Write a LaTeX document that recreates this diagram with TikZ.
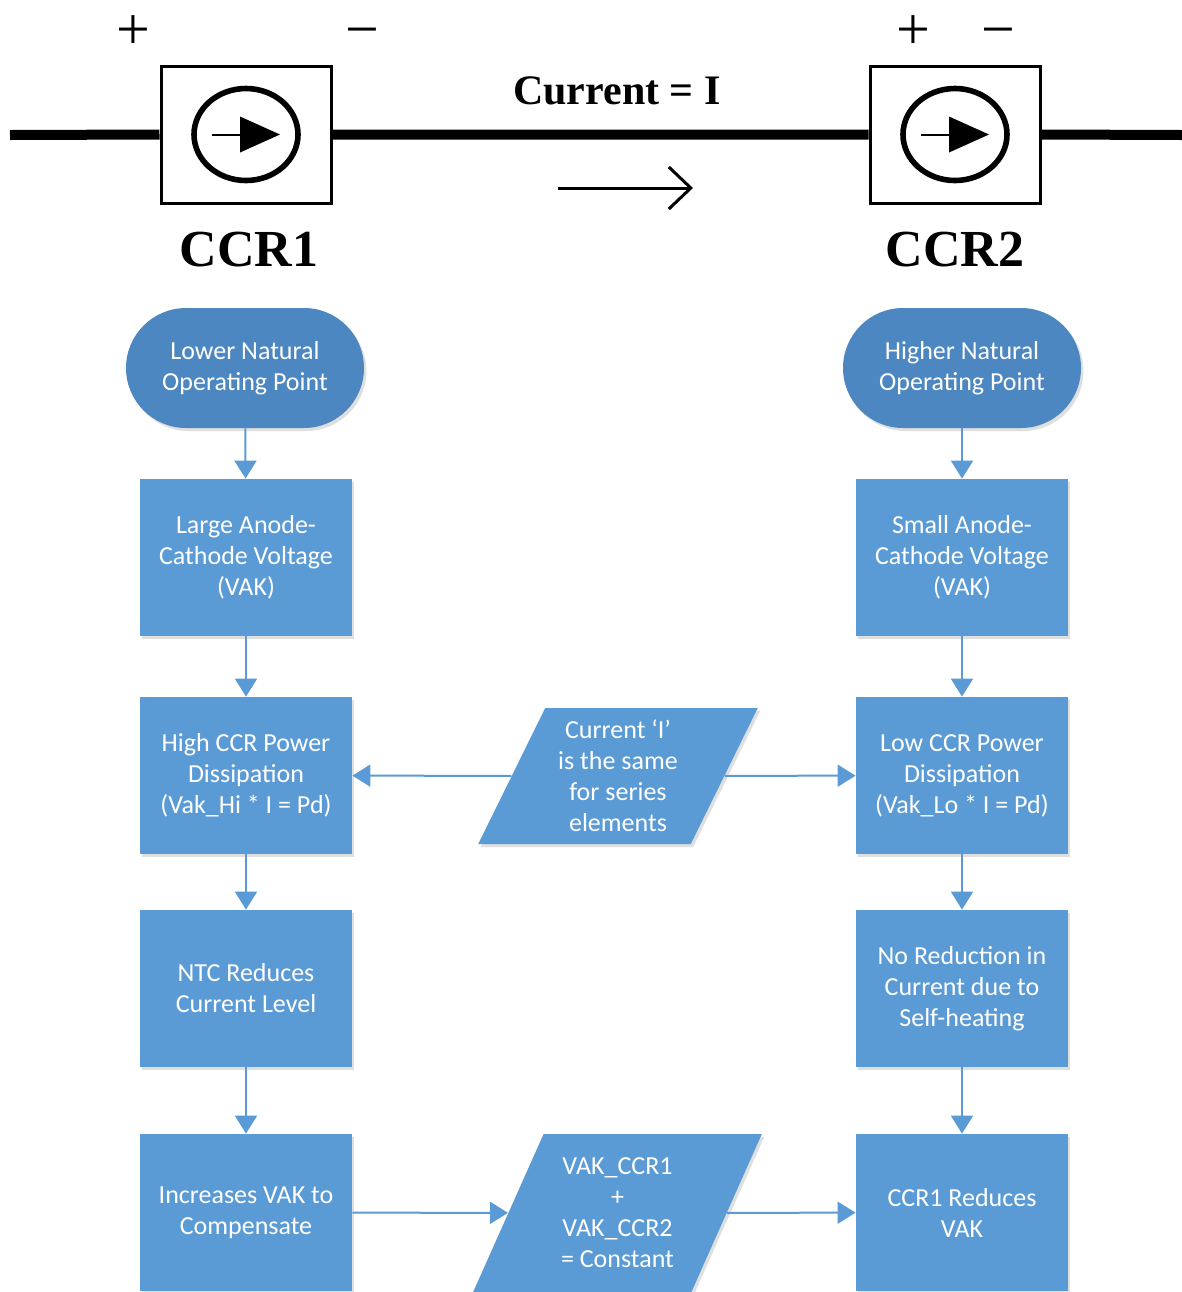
\documentclass[tikz,border=0pt]{standalone}
\usepackage{fontspec}
\setmainfont{Carlito}
\newfontfamily\timesfont{Liberation Serif}
\usetikzlibrary{arrows.meta,shapes.geometric,shadows}
\definecolor{boxblue}{HTML}{5B9BD5}
\definecolor{termblue}{HTML}{4C87C1}
\tikzset{
  ccr/.style={draw, line width=1.5pt, minimum width=85pt, minimum height=68.5pt, inner sep=0pt},
  wire/.style={line width=5pt},
  sign/.style={anchor=base, font=\timesfont\fontsize{30}{30}\selectfont},
  box/.style={rectangle, fill=boxblue, text=white, minimum width=106pt, minimum height=78.5pt,
    align=center, font=\fontsize{13}{15.5}\selectfont,
    drop shadow={shadow xshift=1.2pt, shadow yshift=-1.5pt, opacity=.25}},
  term/.style={box, fill=termblue, rounded corners=30pt, minimum width=119pt, minimum height=60pt},
  para/.style={box, trapezium, trapezium left angle=64, trapezium right angle=116,
    trapezium stretches=true},
  flow/.style={draw=boxblue, line width=1pt, -{Triangle[width=11pt,length=9pt]}},
}
\begin{document}
\begin{tikzpicture}[x=0.5pt,y=-0.5pt]
  \useasboundingbox (0,0) rectangle (1182,1292);
  % circuit
  \node[ccr] (ccr1) at (246,134.5) {};
  \node[ccr] (ccr2) at (955,134.5) {};
  \coordinate (wl) at (10,135);
  \coordinate (wr) at (1182,135);
  \draw[wire] (wl) -- (ccr1.west) (ccr1.east) -- (ccr2.west) (ccr2.east) -- (wr);
  \foreach \c in {ccr1,ccr2} {
    \draw[line width=2.8pt] (\c.center) ellipse [x radius=26pt, y radius=23pt];
    \draw[line width=1pt] ([xshift=-17pt]\c.center) -- ([xshift=-3pt]\c.center);
    \fill ([xshift=-3pt,yshift=9pt]\c.center) -- ([xshift=17pt]\c.center)
      -- ([xshift=-3pt,yshift=-9pt]\c.center) -- cycle;
  }
  \node[sign] (plus1) at (133,49) {+};
  \node[sign] (minus1) at (362,49) {−};
  \node[sign] (plus2) at (913,49) {+};
  \node[sign] (minus2) at (998,49) {−};
  \node[font=\timesfont\bfseries\fontsize{21}{24}\selectfont] (curr) at (617,91) {Current = I};
  \node[font=\timesfont\bfseries\fontsize{26}{30}\selectfont] (name1) at (249,250) {CCR1};
  \node[font=\timesfont\bfseries\fontsize{26}{30}\selectfont] (name2) at (955,250) {CCR2};
  \coordinate (ia) at (558,188);
  \coordinate (ib) at (693,188);
  \draw[line width=1.5pt, -{Straight Barb[length=11pt,width=21pt]}] (ia) -- (ib);
  % flowchart
  \node[term] (lterm) at (245,368) {Lower Natural\\Operating Point};
  \node[term] (rterm) at (962,368) {Higher Natural\\Operating Point};
  \node[box] (l1) at (246,557.5) {Large Anode-\\Cathode Voltage\\(VAK)};
  \node[box] (r1) at (962,557.5) {Small Anode-\\Cathode Voltage\\(VAK)};
  \node[box] (l2) at (246,775.5) {High CCR Power\\Dissipation\\(Vak\_Hi * I = Pd)};
  \node[box] (r2) at (962,775.5) {Low CCR Power\\Dissipation\\(Vak\_Lo * I = Pd)};
  \node[box] (l3) at (246,988.5) {NTC Reduces\\Current Level};
  \node[box] (r3) at (962,988.5) {No Reduction in\\Current due to\\Self-heating};
  \node[box] (l4) at (246,1212.5) {Increases VAK to\\Compensate};
  \node[box] (r4) at (962,1212.5) {CCR1 Reduces\\VAK};
  \node[para, minimum width=140pt, minimum height=68pt] (same) at (618,776)
    {Current ‘I’\\is the same\\for series\\elements};
  \node[para, minimum width=144.5pt, minimum height=79pt] (sum) at (617.5,1213)
    {VAK\_CCR1\\+\\VAK\_CCR2\\= Constant};
  \begin{scope}[flow]
    \draw (lterm) -- (l1);
    \draw (l1) -- (l2);
    \draw (l2) -- (l3);
    \draw (l3) -- (l4);
    \draw (rterm) -- (r1);
    \draw (r1) -- (r2);
    \draw (r2) -- (r3);
    \draw (r3) -- (r4);
    \draw (same) -- (l2);
    \draw (same) -- (r2);
    \draw (l4) -- (sum);
    \draw (sum) -- (r4);
  \end{scope}
\end{tikzpicture}
\end{document}
